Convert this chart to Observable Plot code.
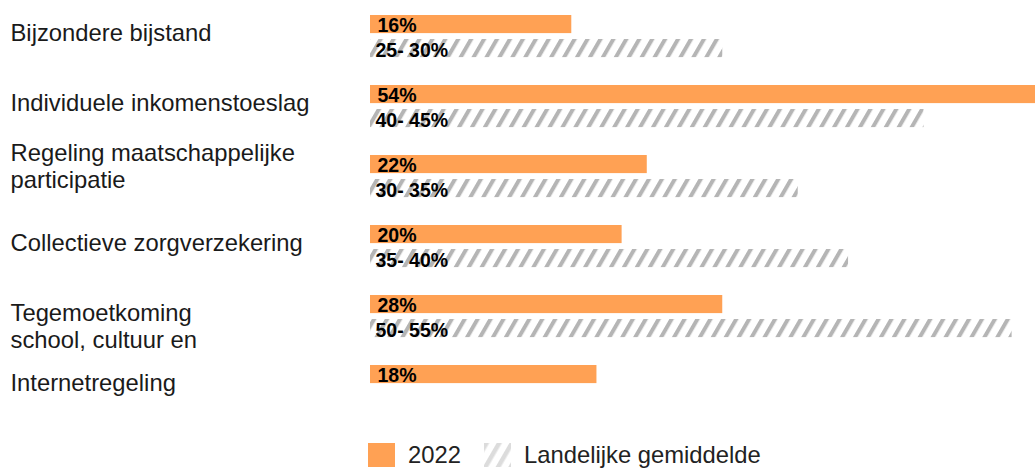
<!DOCTYPE html>
<html>
<head>
<meta charset="utf-8">
<script src="https://cdn.jsdelivr.net/npm/d3@7"></script>
<script src="https://cdn.jsdelivr.net/npm/@observablehq/plot@0.6"></script>
<style>
  html, body { margin: 0; padding: 0; background: #fff; overflow: hidden; }
  body { width: 1035px; height: 469px; font-family: "Liberation Sans", Arial, sans-serif; }
  #chart svg { display: block; }
  .legend { display: flex; align-items: center; height: 24px; padding-top: 13px; padding-left: 368px; font-size: 23.8px; color: #222; }
  .sw { width: 27px; height: 24px; flex: none; }
  .lbl { margin-left: 13px; margin-right: 23px; line-height: 24px; }
</style>
</head>
<body>
<div id="chart"></div>
<div class="legend">
  <span class="sw" style="background:#ffa154"></span><span class="lbl" id="lg1"></span>
  <svg class="sw" width="27" height="24"><defs><pattern id="hatchLegend" patternUnits="userSpaceOnUse" width="11" height="11" patternTransform="rotate(30)"><rect width="11" height="11" fill="#fff"/><rect width="4.5" height="11" fill="#dcdcdc"/></pattern></defs><rect width="27" height="24" fill="url(#hatchLegend)"/></svg><span class="lbl" id="lg2"></span>
</div>
<script>
const categories = ["Bijzondere bijstand", "Individuele inkomenstoeslag", "Regeling maatschappelijke participatie", "Collectieve zorgverzekering", "Tegemoetkoming school, cultuur en", "Internetregeling"];
const categoryLabels = ["Bijzondere bijstand", "Individuele inkomenstoeslag", "Regeling maatschappelijke\nparticipatie", "Collectieve zorgverzekering", "Tegemoetkoming\nschool, cultuur en", "Internetregeling"];
const values2022 = [16, 54, 22, 20, 28, 18];
const nationalAverage = [28, 44, 34, 38, 51, null];
const nationalRangeLabels = ["25- 30%", "40- 45%", "30- 35%", "35- 40%", "50- 55%", null];
const seriesNames = ["2022", "Landelijke gemiddelde"];

document.getElementById("lg1").textContent = seriesNames[0];
document.getElementById("lg2").textContent = seriesNames[1];

const rows2022 = categories.map((c, i) => ({cat: c, v: values2022[i], label: values2022[i] + "%"}));
const rowsAvg = categories.map((c, i) => ({cat: c, v: nationalAverage[i], label: nationalRangeLabels[i]})).filter(d => d.v != null);
const rowsLabels = categories.map((c, i) => ({cat: c, label: categoryLabels[i], i}));

const labelStyle = {y: "cat", frameAnchor: "left", text: "label", textAnchor: "start", lineAnchor: "middle", lineHeight: 1.15, dx: -360, fontSize: 23.8, fill: "#1a1a1a"};

const chart = Plot.plot({
  width: 1035,
  height: 430,
  marginLeft: 370,
  marginRight: 0,
  marginTop: 0,
  marginBottom: 4.6,
  style: {fontFamily: "'Liberation Sans', Arial, sans-serif", background: "white", overflow: "hidden"},
  x: {domain: [0, 52.86], axis: null},
  y: {domain: categories, padding: 0, axis: null},
  marks: [
    Plot.barX(rows2022, {y: "cat", x: "v", fill: "#ffa154", insetTop: 12, insetBottom: 39.9, clip: true}),
    Plot.barX(rowsAvg, {y: "cat", x: "v", fill: "url(#hatch)", insetTop: 36, insetBottom: 15.9}),
    Plot.text(rows2022, {y: "cat", x: 0, text: "label", textAnchor: "start", lineAnchor: "bottom", dx: 7, dy: -6.5, fontWeight: "bold", fontSize: 19.5, fill: "#000"}),
    Plot.text(rowsAvg, {y: "cat", x: 0, text: "label", textAnchor: "start", lineAnchor: "bottom", dx: 5, dy: 18.5, fontWeight: "bold", fontSize: 19.5, fill: "#000"}),
    Plot.text(rowsLabels.filter(d => d.i !== 2 && d.i !== 4), {...labelStyle, dy: -6}),
    Plot.text(rowsLabels.filter(d => d.i === 2), {...labelStyle, dy: -13}),
    Plot.text(rowsLabels.filter(d => d.i === 4), {...labelStyle, dy: 7})
  ]
});

const defs = document.createElementNS("http://www.w3.org/2000/svg", "defs");
defs.innerHTML = '<pattern id="hatch" patternUnits="userSpaceOnUse" width="11.2" height="11.2" patternTransform="rotate(30)"><rect width="11.2" height="11.2" fill="#fff"/><rect width="4" height="11.2" fill="#b5b5b5"/></pattern>';
chart.insertBefore(defs, chart.firstChild);
document.getElementById("chart").appendChild(chart);
</script>
</body>
</html>
